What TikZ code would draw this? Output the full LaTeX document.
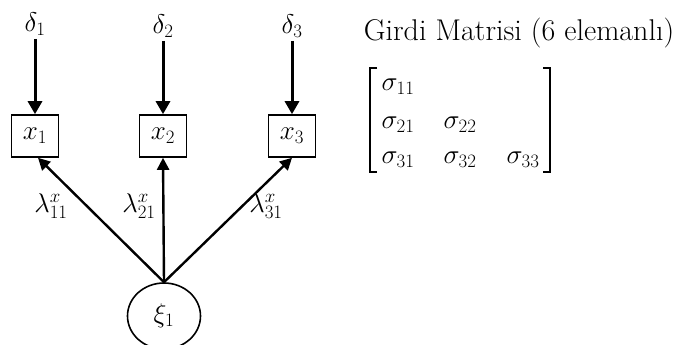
\RequirePackage{fix-cm}
\documentclass[tikz,border=0pt]{standalone}
\usetikzlibrary{arrows.meta,shapes.geometric}
\begin{document}
\begin{tikzpicture}[x=1pt,y=-1pt,
  every node/.style={font=\fontsize{27}{32}\selectfont},
  obs/.style={draw, line width=1.6pt, minimum width=47pt, minimum height=42pt, inner sep=0pt},
  lat/.style={draw, ellipse, line width=1.6pt, minimum width=73pt, minimum height=66pt, inner sep=0pt},
  errarr/.style={-{Triangle[length=13pt,width=14pt]}, line width=3pt},
  loadarr/.style={-{Triangle[length=12pt,width=12pt]}, line width=2.4pt},
  lab/.style={inner sep=0.5pt},
  brk/.style={line width=1.1pt}]
\useasboundingbox (0,0) rectangle (678,345);
\node[obs] (x1) at (35,136) {$x_1$};
\node[obs] (x2) at (163,136) {$x_2$};
\node[obs] (x3) at (292,136) {$x_3$};
\node (d1) at (35,24) {$\delta_1$};
\node (d2) at (163,26) {$\delta_2$};
\node (d3) at (292,26) {$\delta_3$};
\draw[errarr] (d1) -- (x1);
\draw[errarr] (d2) -- (x2);
\draw[errarr] (d3) -- (x3);
\node[lat] (xi) at (164,316) {$\xi_1$};
\draw[loadarr] (xi.north) -- ([xshift=3pt]x1.south);
\draw[loadarr] (xi.north) -- (x2.south);
\draw[loadarr] (xi.north) -- (x3.south);
\node[lab] (l1) at (51,206) {$\lambda^x_{11}$};
\node[lab] (l2) at (139,206) {$\lambda^x_{21}$};
\node[lab] (l3) at (266,206) {$\lambda^x_{31}$};
\node[font=\fontsize{30}{34}\selectfont] (title) at (519,33) {Girdi Matrisi (6 elemanlı)};
\node (s11) at (398,87) {$\sigma_{11}$};
\node (s21) at (398,125) {$\sigma_{21}$};
\node (s22) at (460,125) {$\sigma_{22}$};
\node (s31) at (398,160) {$\sigma_{31}$};
\node (s32) at (460,160) {$\sigma_{32}$};
\node (s33) at (523,160) {$\sigma_{33}$};
\coordinate (lt) at (370,68);
\coordinate (lb) at (370,172);
\coordinate (rt) at (550,68);
\coordinate (rb) at (550,172);
\draw[brk] ([xshift=7pt]lt) -- (lt) -- (lb) -- ([xshift=7pt]lb);
\draw[brk] ([xshift=-7pt]rt) -- (rt) -- (rb) -- ([xshift=-7pt]rb);
\end{tikzpicture}
\end{document}
